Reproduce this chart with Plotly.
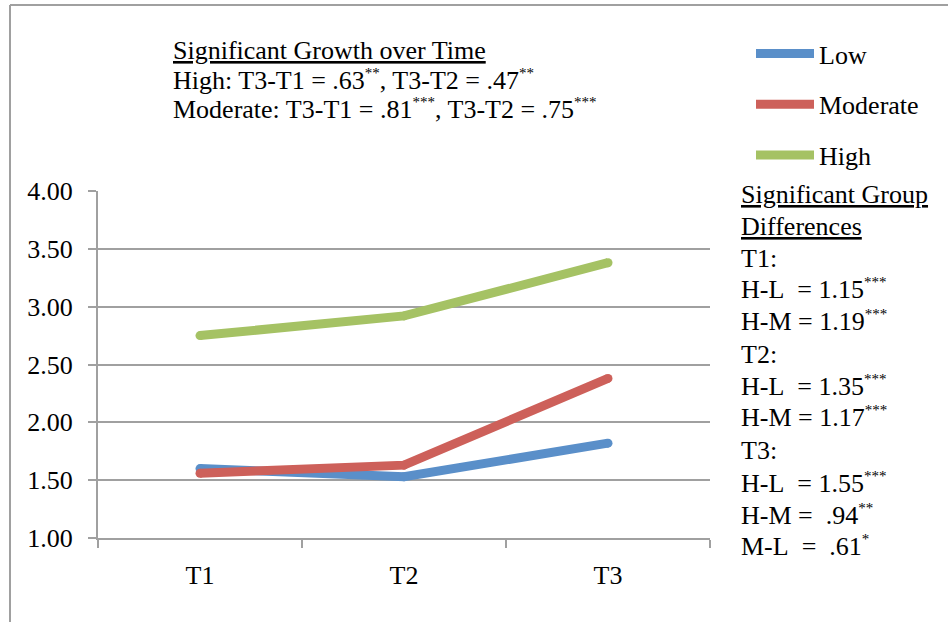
import plotly.graph_objects as go

# ---- data ----
categories = ["T1", "T2", "T3"]
low = [1.60, 1.53, 1.82]
moderate = [1.56, 1.63, 2.38]
high = [2.75, 2.92, 3.38]
y_ticks = [1.0, 1.5, 2.0, 2.5, 3.0, 3.5, 4.0]
y_tick_labels = ["1.00", "1.50", "2.00", "2.50", "3.00", "3.50", "4.00"]


def star(s):
    return "<sup><span style='font-size:15px'>" + s + "</span></sup>"


growth_lines = [
    "<span style='text-decoration:underline'>Significant Growth over Time</span>",
    "High: T3-T1 = .63" + star("**") + ", T3-T2 = .47" + star("**"),
    "Moderate: T3-T1 = .81" + star("***") + ", T3-T2 = .75" + star("***"),
]
group_lines = [
    "<span style='text-decoration:underline'>Significant Group</span>",
    "<span style='text-decoration:underline'>Differences</span>",
    "T1:",
    "H-L&nbsp; = 1.15" + star("***"),
    "H-M = 1.19" + star("***"),
    "T2:",
    "H-L&nbsp; = 1.35" + star("***"),
    "H-M = 1.17" + star("***"),
    "T3:",
    "H-L&nbsp; = 1.55" + star("***"),
    "H-M = &nbsp;.94" + star("**"),
    "M-L&nbsp; = &nbsp;.61" + star("*"),
]

FONT = "Liberation Serif, Times New Roman, serif"
FS = 26
W, H = 948, 622
L, R, T, B = 98, 238, 191, 84
PW, PH = W - L - R, H - T - B


def px(x):
    return (x - L) / PW


def py(y):
    return (H - B - y) / PH


colors = {"Low": "#5A8FC9", "Moderate": "#CD605A", "High": "#A5C264"}
LW = 9

fig = go.Figure()
for name, vals in [("Low", low), ("Moderate", moderate), ("High", high)]:
    fig.add_trace(go.Scatter(
        x=categories, y=vals, mode="lines", name=name, legendgroup=name,
        line=dict(color=colors[name], width=LW),
    ))
    # round caps / joins
    fig.add_trace(go.Scatter(
        x=categories, y=vals, mode="markers", showlegend=False, legendgroup=name,
        marker=dict(color=colors[name], size=LW, line=dict(width=0)),
        hoverinfo="skip",
    ))

annotations = []
for txt, yy in zip(growth_lines, [50, 80, 109]):
    annotations.append(dict(
        x=px(171), y=py(yy), xref="paper", yref="paper", xanchor="left", yanchor="middle",
        align="left", showarrow=False, text=txt,
        font=dict(family=FONT, size=FS, color="black"),
    ))
group_y = [194, 226, 258, 289, 321, 354, 386, 417, 450, 483, 515, 546]
for txt, yy in zip(group_lines, group_y):
    annotations.append(dict(
        x=px(739), y=py(yy), xref="paper", yref="paper", xanchor="left", yanchor="middle",
        align="left", showarrow=False, text=txt,
        font=dict(family=FONT, size=FS, color="black"),
    ))

shapes = [
    dict(type="line", xref="paper", yref="paper", x0=px(10), x1=px(10), y0=py(5), y1=py(640),
         line=dict(color="#A0A0A0", width=2)),
    dict(type="line", xref="paper", yref="paper", x0=px(10), x1=px(960), y0=py(5), y1=py(5),
         line=dict(color="#A0A0A0", width=2)),
]

fig.update_layout(
    width=W, height=H,
    margin=dict(l=L, r=R, t=T, b=B, autoexpand=False),
    paper_bgcolor="white", plot_bgcolor="white",
    font=dict(family=FONT, size=FS, color="black"),
    showlegend=True,
    legend=dict(
        x=px(751), y=py(30), xanchor="left", yanchor="top",
        font=dict(family=FONT, size=FS, color="black"),
        itemwidth=58, tracegroupgap=14, bgcolor="rgba(0,0,0,0)",
        itemclick=False, itemdoubleclick=False,
    ),
    xaxis=dict(
        type="category", range=[-0.5, 2.5], tickson="boundaries",
        showline=True, linecolor="#A0A0A0", linewidth=2,
        ticks="outside", ticklen=8, tickwidth=2, tickcolor="#A0A0A0",
        showgrid=False, zeroline=False, ticklabelstandoff=13, automargin=False,
        tickfont=dict(family=FONT, size=FS, color="black"),
    ),
    yaxis=dict(
        range=[1.0, 4.0], tickvals=y_ticks, ticktext=y_tick_labels,
        showline=True, linecolor="#A0A0A0", linewidth=2,
        ticks="outside", ticklen=8, tickwidth=2, tickcolor="#A0A0A0",
        showgrid=True, gridcolor="#A0A0A0", gridwidth=2, zeroline=False,
        ticklabelstandoff=10, automargin=False,
        tickfont=dict(family=FONT, size=FS, color="black"),
    ),
    annotations=annotations,
    shapes=shapes,
)

fig.write_html("out.html", config={"displayModeBar": False},
               post_script="document.body.style.margin='0';")
